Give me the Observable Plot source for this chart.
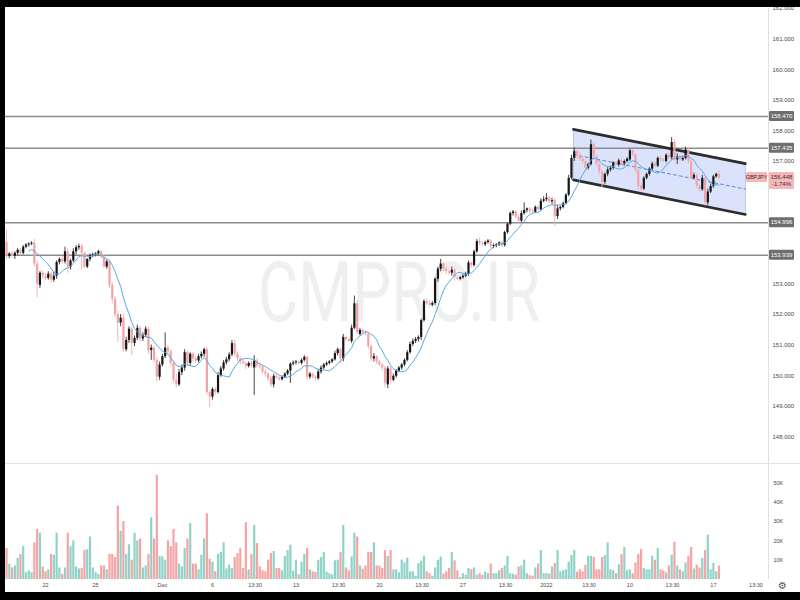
<!DOCTYPE html>
<html><head><meta charset="utf-8">
<script src="https://cdn.jsdelivr.net/npm/d3@7"></script>
<script src="https://cdn.jsdelivr.net/npm/@observablehq/plot@0.6"></script>
<style>
body{margin:0;background:#fff;}
#wrap{position:relative;width:800px;height:600px;overflow:hidden;background:#fff;font-family:"Liberation Sans",Arial,sans-serif;}
#price{position:absolute;left:0;top:0;}
#vol{position:absolute;left:0;top:464px;}
.blk{position:absolute;background:#000;}
#sep{position:absolute;left:0;top:463px;width:800px;height:1px;background:#e0e3eb;}
#gear{position:absolute;left:778px;top:580px;font-size:10px;color:#555;font-family:"DejaVu Sans",sans-serif;}
</style></head><body>
<div id="wrap">
<div id="price"></div>
<div id="sep"></div>
<div id="vol"></div>
<div id="gear">⚙</div>
<div class="blk" style="left:0;top:0;width:800px;height:7px"></div>
<div class="blk" style="left:0;top:0;width:5px;height:600px"></div>
<div class="blk" style="left:0;top:592px;width:800px;height:8px"></div>
</div>
<script>
// 4-hour GBPJPY candles; index 0 = Mon 22 Nov 2021 00:00
const firstIndex = -14;
const opens = [154.35,153.90,153.98,153.90,154.00,154.10,154.00,154.20,154.27,154.30,154.33,153.65,152.95,153.35,
153.25,153.18,153.32,153.12,153.25,153.70,153.80,153.72,154.05,153.55,153.75,154.05,154.18,154.22,154.00,153.55,153.80,153.92,153.95,153.98,
154.05,153.88,153.55,153.72,152.95,152.50,152.00,151.72,151.88,150.85,151.15,151.52,151.05,151.22,151.55,151.20,151.32,151.52,150.82,150.90,
150.50,149.95,150.35,150.62,150.90,150.78,150.40,149.85,149.70,150.10,150.25,150.75,150.40,150.70,150.55,150.48,150.62,150.70,150.85,149.45,
149.30,149.55,149.45,150.00,150.22,150.42,150.52,150.68,151.05,150.70,150.55,150.45,150.40,150.30,150.40,150.25,150.48,150.32,150.28,150.12,
150.05,149.90,149.70,149.98,149.92,149.87,149.95,150.05,150.15,150.38,150.42,150.45,150.40,150.50,150.60,149.95,150.05,149.95,149.90,150.12,
150.25,150.35,150.40,150.45,150.52,150.72,150.85,150.55,151.25,151.18,151.12,151.55,152.35,151.35,151.48,151.40,151.35,150.95,150.55,150.62,
150.45,150.35,150.25,149.70,150.22,149.85,149.98,150.15,150.25,150.35,150.50,150.75,151.02,151.12,151.18,151.25,151.80,152.42,152.36,152.30,
152.36,153.15,153.48,153.65,153.48,153.40,153.35,153.45,153.20,153.15,153.20,153.25,153.32,153.68,153.60,154.05,154.38,154.32,154.28,154.35,
154.40,154.22,154.25,154.28,154.34,154.25,154.68,154.95,155.30,155.35,155.18,155.05,155.30,155.40,155.45,155.38,155.34,155.50,155.42,155.70,
155.75,155.80,155.68,155.72,155.20,155.45,155.50,155.62,155.90,156.45,157.10,157.32,157.18,157.08,157.00,156.78,156.90,157.55,157.15,156.90,
156.65,156.32,156.58,156.72,156.78,156.95,156.88,157.02,156.92,157.00,157.05,157.35,157.22,156.70,156.18,156.10,156.45,156.58,156.75,156.92,
156.85,157.10,157.05,157.00,157.20,157.12,157.62,157.05,157.15,157.05,157.10,157.38,157.00,156.45,156.55,156.20,156.08,156.45,155.65,156.00,
156.18,156.50,156.58];
const highs = [154.75,154.02,154.05,154.05,154.15,154.15,154.25,154.32,154.35,154.38,154.45,153.75,153.40,153.42,
153.35,153.40,153.38,153.40,153.75,153.85,153.88,154.20,154.15,153.80,154.15,154.25,154.30,154.28,154.05,153.82,153.98,154.00,154.02,154.10,
154.08,153.95,153.78,153.78,153.05,152.58,152.10,152.00,152.02,151.25,151.60,151.58,151.30,151.65,151.60,151.40,151.60,151.58,151.00,150.95,
150.60,150.45,150.70,151.40,151.00,150.85,150.48,150.05,150.20,150.35,150.85,150.80,150.75,150.75,150.62,150.70,150.78,150.90,150.92,149.50,
149.60,149.60,150.10,150.30,150.50,150.60,150.75,151.15,151.15,150.78,150.62,150.52,150.45,150.45,150.48,150.65,150.55,150.40,150.32,150.20,
150.10,149.98,150.05,150.05,149.98,150.00,150.10,150.20,150.42,150.48,150.50,150.48,150.55,150.65,150.65,150.10,150.08,150.00,150.20,150.32,
150.40,150.45,150.50,150.55,150.80,150.90,150.90,151.35,151.30,151.22,151.65,152.60,152.45,151.55,151.52,151.45,151.40,151.00,150.72,150.65,
150.50,150.40,150.30,150.30,150.28,150.05,150.20,150.30,150.40,150.55,150.82,151.10,151.20,151.25,151.30,151.85,152.48,152.52,152.45,152.42,
153.20,153.55,153.80,153.70,153.55,153.50,153.55,153.50,153.28,153.25,153.30,153.38,153.75,153.72,154.10,154.45,154.50,154.38,154.40,154.45,
154.45,154.30,154.32,154.38,154.38,154.72,155.00,155.35,155.40,155.40,155.25,155.38,155.65,155.48,155.50,155.45,155.55,155.55,155.78,155.85,
155.95,155.85,155.80,155.78,155.55,155.55,155.68,155.95,156.55,157.20,157.45,157.40,157.30,157.15,157.08,156.95,157.70,157.62,157.20,156.95,
156.72,156.62,156.80,156.85,157.00,157.00,157.08,157.08,157.05,157.12,157.40,157.38,157.25,156.75,156.28,156.50,156.62,156.80,156.98,156.98,
157.15,157.18,157.10,157.25,157.28,157.78,157.70,157.25,157.20,157.18,157.47,157.42,157.05,156.62,156.58,156.25,156.55,156.50,156.10,156.25,
156.55,156.62,156.70];
const lows = [153.80,153.82,153.85,153.80,153.92,153.95,153.95,154.15,154.20,154.25,153.55,152.55,152.85,153.15,
153.10,153.12,153.05,153.05,153.15,153.62,153.65,153.65,153.35,153.45,153.70,153.95,154.10,153.45,153.50,153.50,153.72,153.85,153.88,153.92,
153.82,153.50,153.48,152.85,152.35,151.90,151.08,151.60,150.75,150.78,151.05,150.65,150.95,151.15,151.10,151.12,151.25,150.70,150.50,150.40,
149.80,149.85,150.28,150.55,150.70,150.30,149.75,149.60,149.65,150.00,150.15,150.30,150.30,150.45,150.40,150.42,150.55,150.60,149.35,148.96,
149.20,149.35,149.40,149.95,150.15,150.35,150.45,150.62,150.60,150.45,150.35,150.35,150.20,150.25,150.25,149.35,150.25,150.20,150.05,149.95,
149.80,149.62,149.60,149.88,149.82,149.82,149.90,150.00,149.75,150.32,150.35,150.35,150.35,150.45,149.85,149.88,149.90,149.85,149.85,150.05,
150.20,150.30,150.35,150.40,150.48,150.65,150.40,150.45,151.10,151.08,151.05,151.50,151.35,151.30,151.35,151.30,150.85,150.45,150.45,150.35,
150.30,150.15,149.60,149.58,149.75,149.80,149.92,150.10,150.18,150.30,150.45,150.70,150.95,151.05,151.10,151.15,151.75,152.30,152.25,152.25,
152.30,153.05,153.40,153.40,153.30,153.28,153.25,153.10,153.10,153.10,153.15,153.20,153.25,153.50,153.55,154.00,154.25,154.22,154.22,154.30,
154.15,154.15,154.18,154.22,154.20,154.20,154.62,154.90,155.22,155.12,154.95,155.00,155.25,155.32,155.30,155.30,155.30,155.38,155.38,155.65,
155.68,155.62,155.60,154.88,155.10,155.38,155.45,155.58,155.85,156.40,157.00,157.10,157.00,156.90,156.70,156.72,156.85,157.05,156.80,156.55,
156.12,156.25,156.50,156.65,156.72,156.82,156.82,156.85,156.85,156.95,157.00,157.15,156.60,156.05,156.00,156.05,156.40,156.52,156.70,156.78,
156.80,157.00,156.95,156.95,157.05,157.05,157.00,156.90,157.00,157.00,157.05,156.90,156.40,156.40,156.10,156.00,156.02,155.55,155.55,155.95,
156.12,156.45,156.40];
const closes = [153.90,153.98,153.90,154.00,154.10,154.00,154.20,154.27,154.30,154.33,153.65,153.00,153.35,153.25,
153.18,153.32,153.12,153.25,153.70,153.80,153.72,154.05,153.55,153.75,154.05,154.18,154.22,154.00,153.55,153.80,153.92,153.95,153.98,154.05,
153.88,153.55,153.72,152.95,152.50,152.00,151.72,151.88,150.85,151.15,151.52,151.05,151.22,151.55,151.20,151.32,151.52,150.82,150.90,150.50,
149.95,150.35,150.62,150.90,150.78,150.40,149.85,149.70,150.10,150.25,150.75,150.40,150.70,150.55,150.48,150.62,150.70,150.85,149.45,149.30,
149.55,149.45,150.00,150.22,150.42,150.52,150.68,151.05,150.70,150.55,150.45,150.40,150.30,150.40,150.32,150.48,150.32,150.28,150.12,150.05,
149.90,149.70,149.98,149.92,149.87,149.95,150.05,150.15,150.38,150.42,150.45,150.40,150.50,150.60,149.95,150.05,149.95,149.90,150.12,150.25,
150.35,150.40,150.45,150.52,150.72,150.85,150.55,151.25,151.18,151.12,151.55,152.35,151.40,151.48,151.40,151.35,150.95,150.55,150.62,150.45,
150.35,150.25,149.75,150.22,149.85,149.98,150.15,150.25,150.35,150.50,150.75,151.02,151.12,151.18,151.25,151.80,152.42,152.36,152.30,152.36,
153.15,153.48,153.65,153.48,153.40,153.35,153.45,153.20,153.15,153.20,153.25,153.32,153.68,153.60,154.05,154.38,154.32,154.28,154.35,154.40,
154.22,154.25,154.28,154.34,154.25,154.68,154.95,155.30,155.35,155.18,155.05,155.30,155.40,155.45,155.38,155.34,155.50,155.42,155.70,155.75,
155.80,155.68,155.72,155.20,155.45,155.50,155.62,155.90,156.45,157.10,157.32,157.18,157.08,157.00,156.78,156.90,157.55,157.15,156.90,156.65,
156.32,156.58,156.72,156.78,156.95,156.88,157.02,156.92,157.00,157.08,157.35,157.22,156.70,156.18,156.10,156.45,156.58,156.75,156.92,156.85,
157.10,157.05,157.00,157.20,157.12,157.62,157.05,157.15,157.05,157.10,157.38,157.00,156.45,156.55,156.20,156.08,156.45,155.65,156.00,156.18,
156.50,156.58,156.45];
const volumesK = [16,8,6,7,11,13,17,3.5,4.5,3.5,19,26,24,6.5,
4,5,13,12.6,24,6,2.6,6,24,17,20,6.5,5.5,5.7,15,15.5,22,6,3.5,2.6,
7,7,5,13,13,11.4,38,25,30,13,18,10,24,20,21,6,7,13,32,21,
54,12,11.7,10,20,17,26,19,8,6.5,16,21,29,8,8,5,12.6,21,34,10.5,
9,4,13,14,19,5.5,7.4,5.7,11.4,13.5,16,5.7,29.5,5,13,28,18.6,6.5,4.5,4,
10,13.5,14.5,5.7,5.7,4.5,12,15,17.8,4.3,10,2.4,9,13,16,5,4,3.6,10,11.4,
14,3.8,3,2.4,9.7,10,14,28,6,4.5,11.7,24,22,7,5.4,7,14,14,19,7,
7,5.7,15,12,15,5,5,3.5,10,8.6,11,4,4,1.7,8.3,9.5,12,4,3,1.7,
6,10,11.7,2.8,4,5.7,14,9.7,4.5,1,3,2.2,5.7,5,6,2.2,3,2.2,3.8,3,
8,3,3,4.5,5.7,7,12,3,2.8,2.2,6.5,7,10,3,2,1.7,6,8,15,3,
3,2.8,6.5,8.3,15,4,4.5,5,9,12.4,15,3.8,5,4,7.4,12,12,11.4,5,5,
11.4,12.4,19,5,4.5,3,7.6,13,16.6,4.5,5,3,8.6,13,15.5,5.7,5,5,12,10,
16,5,4.5,3.5,7,12.6,19.3,7,5,4,8.6,12,16.6,5.5,7.4,6,11,15,23,5,
8.3,4,7];

const levels = [158.470, 157.435, 154.996, 153.939];
const levelLabels = ["158.470", "157.435", "154.996", "153.939"];
// 154, 155 and 156 are hidden behind the level / price labels in the reference
const priceTicks = [148,149,150,151,152,153,157,158,159,160,161,162];
const volTicks = [10,20,30,40,50];
const dateTickPos = [0,18,42,60,75.3,90,105.3,120,135.3,150,165.3,180,195.3,210,225.3,240,255.3];
const dateTickLabels = ["22","25","Dec","6","13:30","13","13:30","20","13:30","27","13:30","2022","13:30","10","13:30","17","13:30"];
const channelX = [189.7, 251.5];
const channelTop = [158.05, 156.93];
const channelBottom = [156.40, 155.27];
const symbol = "GBPJPY", lastPriceText = "156.448", lastPrice = 156.448, changeText = "-1.74%";
const watermark = "CMPRO.IR";

const candles = opens.map((o, k) => ({i: firstIndex + k, o, h: highs[k], l: lows[k], c: closes[k], v: volumesK[k], up: closes[k] >= o}));
const channel = channelX.map((x, k) => ({x, top: channelTop[k], bot: channelBottom[k], mid: (channelTop[k] + channelBottom[k]) / 2}));
const up = candles.filter(d => d.up), down = candles.filter(d => !d.up);

const xDomain = [-14.37, 259.8];
const font = "Liberation Sans, Arial, sans-serif";
const UPC = "#161616", DOWNC = "#f2a3a6", DOWNW = "#f4b4b6";

const price = Plot.plot({
  width: 800, height: 463, marginLeft: 5, marginRight: 32, marginTop: 8, marginBottom: 0,
  style: {fontFamily: font, fontSize: "6px", color: "#4a4a4a", background: "transparent", overflow: "visible"},
  x: {domain: xDomain, axis: null},
  y: {domain: [147.13, 162], axis: "right", ticks: priceTicks, tickFormat: d => d.toFixed(3), tickSize: 0, tickPadding: 4, label: null},
  marks: [
    Plot.text([watermark], {frameAnchor: "middle", dx: 12, dy: 58, fontSize: 84, fontFamily: "Roboto", fontWeight: 400, fill: "#efefef"}),
    Plot.areaY(channel, {x: "x", y1: "bot", y2: "top", fill: "#dae3fb"}),
    Plot.ruleX(channel, {x: "x", y1: "bot", y2: "top", stroke: "#b3c4f2", strokeWidth: 1}),
    Plot.ruleY(levels, {stroke: "#8c8c8c", strokeWidth: 1.5}),
    Plot.line(channel, {x: "x", y: "top", stroke: "#2c2c2c", strokeWidth: 2.6}),
    Plot.line(channel, {x: "x", y: "bot", stroke: "#2c2c2c", strokeWidth: 2.6}),
    Plot.line(channel, {x: "x", y: "mid", stroke: "#5b82dc", strokeWidth: 1, strokeDasharray: "3,3"}),
    Plot.ruleX(down, {x: "i", y1: "l", y2: "h", stroke: DOWNW, strokeWidth: 1}),
    Plot.ruleX(up, {x: "i", y1: "l", y2: "h", stroke: "#444", strokeWidth: 1}),
    Plot.ruleX(down, {x: "i", y1: "o", y2: "c", stroke: DOWNC, strokeWidth: 2.2}),
    Plot.ruleX(up, {x: "i", y1: "o", y2: "c", stroke: UPC, strokeWidth: 2.2}),
    Plot.lineY(candles, Plot.windowY({k: 9, anchor: "end", strict: true}, {x: "i", y: "c", stroke: "#5aa8e2", strokeWidth: 1})),
    Plot.ruleX([xDomain[1]], {stroke: "#dcdfe6", strokeWidth: 1})
  ]
});
document.getElementById("price").appendChild(price);

// squeeze watermark to its width
d3.select(price).selectAll("text").filter(function() { return this.textContent === watermark; })
  .attr("textLength", 282).attr("lengthAdjust", "spacingAndGlyphs");

// axis labels for levels and last price, positioned through Plot's y scale
const yS = price.scale("y");
const g = d3.select(price).append("g").attr("font-family", font).attr("font-size", 6);
levels.forEach((lv, k) => {
  const y = yS.apply(lv);
  g.append("rect").attr("x", 769).attr("y", y - 5).attr("width", 25).attr("height", 10).attr("fill", "#6e6e6e").attr("rx", 1);
  g.append("text").attr("x", 781.5).attr("y", y + 2).attr("text-anchor", "middle").attr("fill", "#fff").text(levelLabels[k]);
});
{
  const y = yS.apply(lastPrice);
  g.append("rect").attr("x", 769).attr("y", y - 6).attr("width", 25).attr("height", 17).attr("fill", "#f6b7b9").attr("rx", 1);
  g.append("text").attr("x", 781.5).attr("y", y + 1).attr("text-anchor", "middle").attr("fill", "#3a2a2a").text(lastPriceText);
  g.append("text").attr("x", 781.5).attr("y", y + 8.5).attr("text-anchor", "middle").attr("fill", "#3a2a2a").text(changeText);
  g.append("rect").attr("x", 746).attr("y", y - 6).attr("width", 21).attr("height", 10).attr("fill", "#f6b7b9").attr("rx", 1);
  g.append("text").attr("x", 756.5).attr("y", y + 1).attr("text-anchor", "middle").attr("fill", "#3a2a2a").attr("font-size", 5.5).text(symbol);
}

const dateLabel = new Map(dateTickPos.map((p, k) => [p, dateTickLabels[k]]));
const vol = Plot.plot({
  width: 800, height: 128, marginLeft: 5, marginRight: 32, marginTop: 0, marginBottom: 13,
  style: {fontFamily: font, fontSize: "5.5px", color: "#4a4a4a", background: "transparent", overflow: "visible"},
  x: {domain: xDomain, ticks: dateTickPos, tickFormat: d => dateLabel.get(d) ?? "", tickSize: 0, tickPadding: 4, label: null},
  y: {domain: [0, 59.6], axis: "right", ticks: volTicks, tickFormat: d => d + "K", tickSize: 0, tickPadding: 5, label: null},
  marks: [
    Plot.ruleX(up, {x: "i", y1: d => 0, y2: "v", stroke: "#8fd3c8", strokeWidth: 2.2}),
    Plot.ruleX(down, {x: "i", y1: d => 0, y2: "v", stroke: "#f5a3a3", strokeWidth: 2.2}),
    Plot.ruleX([xDomain[1]], {stroke: "#dcdfe6", strokeWidth: 1})
  ]
});
document.getElementById("vol").appendChild(vol);
</script>
</body></html>
